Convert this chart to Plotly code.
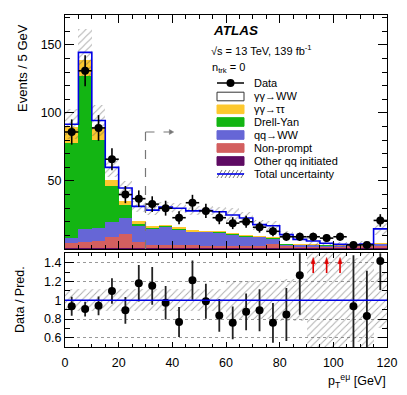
import numpy as np
import plotly.graph_objects as go

# ---------------- data ----------------
bin_low = [0, 5, 10, 15, 20, 25, 30, 35, 40, 45, 50, 55, 60, 65, 70, 75, 80, 85, 90, 95, 100, 105, 110, 115]
bin_width = 5

data_counts = [86, 131, 89, 66, 40, 37, 33, 30, 23, 34, 28, 23, 19, 20, 16, 13, 9, 9, 9, 8, 9, 3, 3, 21]

other_qq = [0.7, 0.7, 0.7, 0.7, 0.7, 0.7, 0.7, 0.7, 0.7, 0.7, 0.7, 0.7, 0.7, 0.7, 0.7, 0.7,
            0.4, 0.4, 0.4, 0.4, 0.4, 0.4, 0.4, 0.4]
nonprompt = [3.5, 4.1, 4.9, 8.1, 10.3, 4.5, 2.6, 2.6, 2.5, 2.5, 1.6, 1.5, 1.5, 1.5, 1.5, 2.7,
             1.6, 1.6, 1.6, 1.6, 1.6, 1.9, 1.9, 2.1]
qq_ww = [3.6, 10.2, 9.9, 10.7, 11.5, 12.3, 11.9, 13.1, 11.3, 9.5, 10.2, 10.0, 8.6, 7.3, 6.8, 4.6,
         1.5, 1.2, 1.0, 0.8, 0.6, 0.3, 0.3, 1.5]
drell_yan = [70.2, 112.0, 64.5, 26.5, 9.5, 1.1, 0.6, 0.6, 0.6, 0.5, 0.5, 0.4, 0.4, 0.4, 0.3, 0.3,
             0.2, 0.2, 0.2, 0.2, 0.2, 0.1, 0.1, 0.2]
yy_tautau = [12.0, 12.0, 9.0, 5.0, 3.5, 1.8, 1.0, 0.8, 0.9, 0.6, 0.5, 0.5, 0.5, 0.4, 0.4, 0.4,
             0.3, 0.2, 0.2, 0.2, 0.2, 0.1, 0.1, 0.3]
yy_ww = [1.7, 5.5, 5.5, 9.0, 9.3, 10.9, 11.8, 13.0, 13.9, 14.2, 14.8, 14.3, 13.3, 12.5, 8.2, 8.4,
         6.6, 3.5, 2.5, 1.0, 0.4, 0.4, 0.8, 10.3]
rel_unc = [0.12, 0.12, 0.12, 0.12, 0.12, 0.12, 0.12, 0.12, 0.12, 0.12, 0.12, 0.12,
           0.20, 0.20, 0.20, 0.20, 0.22, 0.22, 0.60, 0.50, 0.50, 0.45, 0.60, 0.30]

x_ticks = [0, 20, 40, 60, 80, 100, 120]
y_ticks_main = [50, 100, 150]
y_ticks_ratio = [0.6, 0.8, 1.0, 1.2, 1.4]
y_ticklabels_ratio = ["0.6", "0.8", "1", "1.2", "1.4"]

# ---------------- derived ----------------
W, H = 407, 395
centers = np.array(bin_low) + bin_width / 2.0
edges = list(bin_low) + [bin_low[-1] + bin_width]

components = [
    ("Other qq initiated", other_qq, "#5e0b63"),
    ("Non-prompt", nonprompt, "#d35f5f"),
    ("qq→WW", qq_ww, "#6666d6"),
    ("Drell-Yan", drell_yan, "#13b513"),
    ("γγ→ττ", yy_tautau, "#fdc82e"),
    ("γγ→WW", yy_ww, "#ffffff"),
]
stack = np.array([c[1] for c in components])
bases = np.vstack([np.zeros(len(bin_low)), np.cumsum(stack, axis=0)[:-1]])
total = stack.sum(axis=0)
unc = total * np.array(rel_unc)
data = np.array(data_counts, dtype=float)
data_err = np.sqrt(data)

ratio = data / total
ratio_err = data_err / total
RMIN, RMAX = 0.5, 1.5
out_of_range = ratio > RMAX
ratio_plot = np.where(out_of_range, np.nan, ratio)
ratio_err_plot = np.where(out_of_range, np.nan, ratio_err)

FONT = "Liberation Sans, Arial, sans-serif"
HATCH = dict(shape="/", fgcolor="#555555", bgcolor="rgba(0,0,0,0)", size=5, solidity=0.18)

fig = go.Figure()

# stacked histogram
for (name, vals, col), base in zip(components, bases):
    fig.add_trace(go.Bar(x=centers, y=vals, base=base, width=bin_width, name=name,
                         marker=dict(color=col, line=dict(width=0)),
                         xaxis="x", yaxis="y", showlegend=False, hoverinfo="skip"))

# uncertainty band (main)
fig.add_trace(go.Bar(x=centers, y=2 * unc, base=total - unc, width=bin_width,
                     marker=dict(color="rgba(0,0,0,0)", line=dict(width=0), pattern=HATCH),
                     xaxis="x", yaxis="y", showlegend=False, hoverinfo="skip"))

# total prediction outline
fig.add_trace(go.Scatter(x=edges, y=list(total) + [total[-1]], mode="lines",
                         line=dict(color="#0000e6", width=1.6, shape="hv"),
                         xaxis="x", yaxis="y", showlegend=False, hoverinfo="skip"))

# data
fig.add_trace(go.Scatter(x=centers, y=data, mode="markers",
                         marker=dict(color="black", size=8),
                         error_y=dict(type="data", array=data_err, width=0, thickness=1.6, color="black"),
                         error_x=dict(type="constant", value=bin_width / 2.0, width=0, thickness=1.6, color="black"),
                         xaxis="x", yaxis="y", showlegend=False))

# ratio band
fig.add_trace(go.Bar(x=centers, y=2 * np.array(rel_unc), base=1 - np.array(rel_unc), width=bin_width,
                     marker=dict(color="rgba(0,0,0,0)", line=dict(width=0), pattern=HATCH),
                     xaxis="x2", yaxis="y2", showlegend=False, hoverinfo="skip"))

# ratio data
fig.add_trace(go.Scatter(x=centers, y=ratio_plot, mode="markers",
                         marker=dict(color="black", size=8),
                         error_y=dict(type="data", array=ratio_err_plot, width=0, thickness=1.8, color="#222222"),
                         xaxis="x2", yaxis="y2", showlegend=False))

# ---------------- layout ----------------
def px_x(p):
    return p / W

def px_y(p):
    return 1 - p / H

xdom = [65 / W, 387 / W]
ydom_main = [px_y(249), px_y(15)]
ydom_ratio = [px_y(347.3), px_y(253.3)]

axis_common = dict(showline=True, linecolor="black", linewidth=1, mirror="ticks",
                   ticks="inside", tickcolor="black", tickwidth=1,
                   tickfont=dict(family=FONT, size=12.5, color="black"),
                   zeroline=False)

fig.update_layout(
    width=W, height=H,
    margin=dict(l=0, r=0, t=0, b=0, autoexpand=False),
    paper_bgcolor="white", plot_bgcolor="white",
    barmode="overlay", bargap=0, showlegend=False,
    font=dict(family=FONT, color="black"),
    xaxis=dict(domain=xdom, anchor="y", range=[0, 120], tickvals=x_ticks, ticklen=8,
               showticklabels=False, showgrid=False,
               minor=dict(ticks="inside", tickvals=[v for v in range(0, 121, 5)], ticklen=4,
                          tickcolor="black", showgrid=False),
               **axis_common),
    yaxis=dict(domain=ydom_main, anchor="x", range=[0, 172], tickvals=y_ticks_main, ticklen=9,
               showgrid=False,
               minor=dict(ticks="inside", tickvals=[v for v in range(0, 171, 10)], ticklen=5,
                          tickcolor="black", showgrid=False),
               **axis_common),
    xaxis2=dict(domain=xdom, anchor="y2", range=[0, 120], matches="x", tickvals=x_ticks, ticklen=5,
                showgrid=False, ticklabelstandoff=4,
                minor=dict(ticks="inside", tickvals=[v for v in range(0, 121, 5)], ticklen=3,
                           tickcolor="black", showgrid=False),
                **axis_common),
    yaxis2=dict(domain=ydom_ratio, anchor="x2", range=[RMIN, RMAX], tickvals=y_ticks_ratio,
                ticktext=y_ticklabels_ratio, ticklen=9,
                showgrid=True, gridcolor="#999999", griddash="dot", gridwidth=1,
                minor=dict(ticks="inside", tickvals=[round(0.5 + 0.1 * i, 2) for i in range(11)], ticklen=5,
                           tickcolor="black", showgrid=False),
                **axis_common),
)

shapes = []
annotations = []

# ratio = 1 line
shapes.append(dict(type="line", xref="x2", yref="y2", x0=0, x1=120, y0=1, y1=1,
                   line=dict(color="#0000e6", width=1.6), layer="above"))

# dashed selection arrow
cut_x, cut_y, cut_end = 30, 86, 40.5
shapes.append(dict(type="line", xref="x", yref="y", x0=cut_x, x1=cut_x, y0=0, y1=cut_y,
                   line=dict(color="#777777", width=1.2, dash="dash"), layer="above"))
shapes.append(dict(type="line", xref="x", yref="y", x0=cut_x, x1=cut_end - 1.5, y0=cut_y, y1=cut_y,
                   line=dict(color="#777777", width=1.2, dash="dash"), layer="above"))
shapes.append(dict(type="path", xref="x", yref="y",
                   path=f"M {cut_end - 1.6},{cut_y - 1.8} L {cut_end},{cut_y} L {cut_end - 1.6},{cut_y + 1.8} Z",
                   fillcolor="#777777", line=dict(color="#777777", width=0.5), layer="above"))

# red arrows for out-of-range ratio points
for xc in centers[out_of_range]:
    shapes.append(dict(type="line", xref="x2", yref="y2", x0=xc, x1=xc, y0=1.29, y1=1.40,
                       line=dict(color="#e00000", width=1.6), layer="above"))
    shapes.append(dict(type="path", xref="x2", yref="y2",
                       path=f"M {xc - 0.75},1.39 L {xc + 0.75},1.39 L {xc},1.455 Z",
                       fillcolor="#e00000", line=dict(color="#e00000", width=0.5), layer="above"))

# ATLAS labels
annotations.append(dict(xref="paper", yref="paper", x=px_x(211), y=px_y(31), xanchor="left", yanchor="middle",
                        text="<b><i>ATLAS</i></b>", showarrow=False,
                        font=dict(family=FONT, size=13.5, color="black")))
annotations.append(dict(xref="paper", yref="paper", x=px_x(209), y=px_y(50), xanchor="left", yanchor="middle",
                        text="√s = 13 TeV, 139 fb<sup>-1</sup>", showarrow=False,
                        font=dict(family=FONT, size=11, color="black")))
annotations.append(dict(xref="paper", yref="paper", x=px_x(210), y=px_y(68), xanchor="left", yanchor="middle",
                        text="n<sub>trk</sub> = 0", showarrow=False,
                        font=dict(family=FONT, size=11, color="black")))

# legend (drawn manually)
leg_x0, leg_x1, leg_text_x = 217, 244, 252
rows = [("Data", 83), ("γγ→WW", 96.5), ("γγ→ττ", 109.3), ("Drell-Yan", 122), ("qq→WW", 135),
        ("Non-prompt", 148), ("Other qq initiated", 161), ("Total uncertainty", 174)]
color_of = {c[0]: c[2] for c in components}
for label, ry in rows:
    annotations.append(dict(xref="paper", yref="paper", x=px_x(leg_text_x), y=px_y(ry),
                            xanchor="left", yanchor="middle", text=label, showarrow=False,
                            font=dict(family=FONT, size=11, color="black")))
    if label == "Data":
        shapes.append(dict(type="line", xref="paper", yref="paper", x0=px_x(leg_x0), x1=px_x(leg_x1),
                           y0=px_y(ry), y1=px_y(ry), line=dict(color="black", width=1.5)))
        cx = (leg_x0 + leg_x1) / 2
        shapes.append(dict(type="circle", xref="paper", yref="paper", x0=px_x(cx - 4), x1=px_x(cx + 4),
                           y0=px_y(ry + 4), y1=px_y(ry - 4), fillcolor="black", line=dict(width=0)))
    elif label == "Total uncertainty":
        for k in range(7):
            xa = leg_x0 + k * 4
            xb = min(xa + 5, leg_x1)
            shapes.append(dict(type="line", xref="paper", yref="paper", x0=px_x(xa), x1=px_x(xb),
                               y0=px_y(ry + 4), y1=px_y(ry + 4 - (xb - xa) * 8 / 5),
                               line=dict(color="#555555", width=0.8)))
        shapes.append(dict(type="line", xref="paper", yref="paper", x0=px_x(leg_x0), x1=px_x(leg_x1),
                           y0=px_y(ry), y1=px_y(ry), line=dict(color="#0000e6", width=1.6)))
    else:
        col = color_of[label]
        border = "#333333" if label == "γγ→WW" else col
        shapes.append(dict(type="rect", xref="paper", yref="paper", x0=px_x(leg_x0), x1=px_x(leg_x1),
                           y0=px_y(ry + 4.3), y1=px_y(ry - 4.3), fillcolor=col,
                           line=dict(color=border, width=1)))

# axis titles
annotations.append(dict(xref="paper", yref="paper", x=px_x(22), y=px_y(68), xanchor="center", yanchor="middle",
                        textangle=-90, text="Events / 5 GeV", showarrow=False,
                        font=dict(family=FONT, size=13, color="black")))
annotations.append(dict(xref="paper", yref="paper", x=px_x(20), y=px_y(300), xanchor="center", yanchor="middle",
                        textangle=-90, text="Data / Pred.", showarrow=False,
                        font=dict(family=FONT, size=12.5, color="black")))
annotations.append(dict(xref="paper", yref="paper", x=px_x(388), y=px_y(381), xanchor="right", yanchor="middle",
                        text="p<sub>T</sub><sup>eμ</sup> [GeV]", showarrow=False,
                        font=dict(family=FONT, size=12.5, color="black")))

fig.update_layout(shapes=shapes, annotations=annotations)
fig.write_html("out.html", config={"displayModeBar": False},
               post_script="document.body.style.margin='0';document.body.style.padding='0';"
                           "document.body.style.overflow='hidden';")
